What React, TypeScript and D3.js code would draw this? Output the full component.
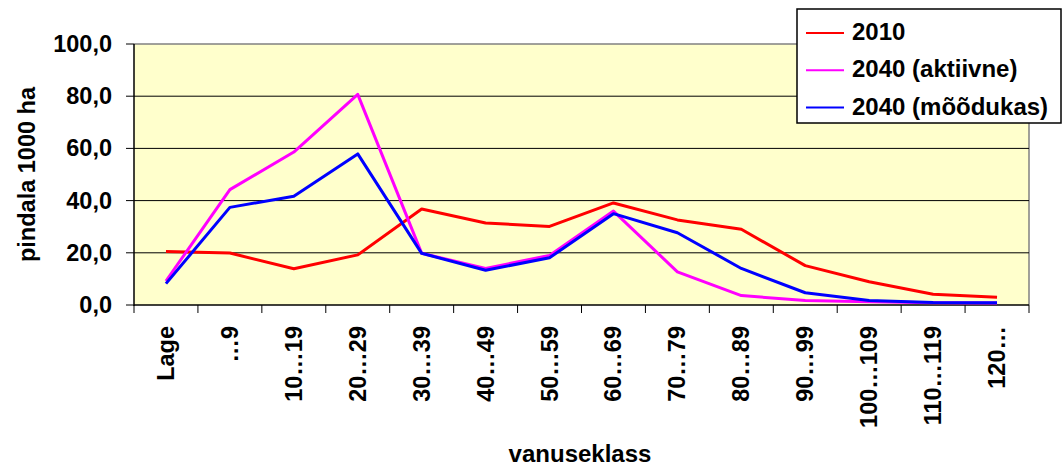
import * as d3 from "d3";

const categories = [
  "Lage", "…9", "10…19", "20…29", "30…39", "40…49", "50…59",
  "60…69", "70…79", "80…89", "90…99", "100…109", "110…119", "120…",
];
const values2010 = [20.5, 19.9, 13.9, 19.2, 36.8, 31.4, 30.1, 39.1, 32.6, 29.0, 15.1, 8.9, 4.1, 3.0];
const valuesAktiivne = [9.2, 44.2, 58.6, 80.7, 19.8, 14.0, 19.0, 36.0, 12.7, 3.6, 1.7, 1.2, 0.9, 0.8];
const valuesMoodukas = [8.2, 37.4, 41.7, 57.9, 19.8, 13.3, 18.1, 35.0, 27.7, 14.0, 4.7, 1.7, 1.0, 0.9];
const yTicks = [0, 20, 40, 60, 80, 100];

const series = [
  { name: "2010", color: "#FF0000", values: values2010 },
  { name: "2040 (aktiivne)", color: "#FF00FF", values: valuesAktiivne },
  { name: "2040 (mõõdukas)", color: "#0000FF", values: valuesMoodukas },
];

const W = 1064;
const H = 469;
const left = 134;
const right = 1029;
const top = 44;
const bottom = 305;
const font = "'Liberation Sans', Arial, sans-serif";

const App = () => {
  const x = d3.scaleBand<string>().domain(categories).range([left, right]);
  const y = d3.scaleLinear().domain([0, 100]).range([bottom, top]);
  const line = d3
    .line<number>()
    .x((_, i) => (x(categories[i]) ?? 0) + x.bandwidth() / 2)
    .y((d) => y(d));
  const fmt = (v: number) => v.toFixed(1).replace(".", ",");

  return (
    <svg
      width={W}
      height={H}
      style={{ position: "absolute", left: 0, top: 0 }}
      fontFamily={font}
      fontWeight="bold"
    >
      <rect x={0} y={0} width={W} height={H} fill="#fff" />
      <rect x={left} y={top} width={right - left} height={bottom - top} fill="#FFFFCC" />
      <line x1={left} x2={right} y1={top} y2={top} stroke="#808080" strokeWidth={1.5} />
      <line x1={right} x2={right} y1={top} y2={bottom} stroke="#808080" strokeWidth={1.5} />
      {yTicks.slice(1, -1).map((t) => (
        <line key={t} x1={left} x2={right} y1={y(t)} y2={y(t)} stroke="#000" strokeWidth={1} />
      ))}
      {yTicks.map((t) => (
        <g key={t}>
          <line x1={left - 8} x2={left} y1={y(t)} y2={y(t)} stroke="#000" strokeWidth={1} />
          <text x={112} y={y(t) + 8} textAnchor="end" fontSize={23.5}>
            {fmt(t)}
          </text>
        </g>
      ))}
      <line x1={left} x2={left} y1={top} y2={bottom + 1} stroke="#000" strokeWidth={1.5} />
      <line x1={left} x2={right} y1={bottom} y2={bottom} stroke="#000" strokeWidth={1.5} />
      {[...categories.map((c) => x(c) ?? 0), right].map((px, i) => (
        <line key={i} x1={px} x2={px} y1={bottom} y2={bottom + 8} stroke="#000" strokeWidth={1} />
      ))}
      {categories.map((c) => {
        const cx = (x(c) ?? 0) + x.bandwidth() / 2;
        return (
          <text
            key={c}
            transform={`translate(${cx + 8}, 326) rotate(-90)`}
            textAnchor="end"
            fontSize={23.5}
          >
            {c}
          </text>
        );
      })}
      {series.map((s) => (
        <path
          key={s.name}
          d={line(s.values) ?? undefined}
          fill="none"
          stroke={s.color}
          strokeWidth={3}
          strokeLinejoin="round"
        />
      ))}
      <text
        transform={`translate(35, ${(top + bottom) / 2}) rotate(-90)`}
        textAnchor="middle"
        fontSize={23.5}
      >
        pindala 1000 ha
      </text>
      <text x={580} y={462} textAnchor="middle" fontSize={24}>
        vanuseklass
      </text>
      <g>
        <rect x={797} y={9} width={264} height={114} fill="#fff" stroke="#000" strokeWidth={1.5} />
        {series.map((s, i) => {
          const ly = 33 + i * 37.3;
          return (
            <g key={s.name}>
              <line x1={806} x2={844} y1={ly} y2={ly} stroke={s.color} strokeWidth={2} />
              <text x={852} y={ly + 7} fontSize={24}>
                {s.name}
              </text>
            </g>
          );
        })}
      </g>
    </svg>
  );
};

export default App;
